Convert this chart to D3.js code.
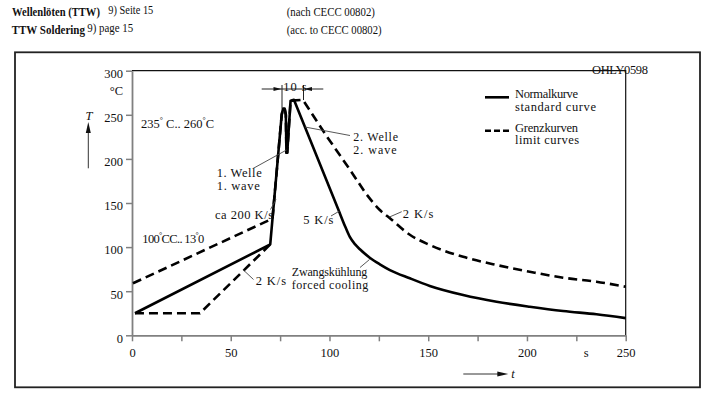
<!DOCTYPE html>
<html>
<head>
<meta charset="utf-8">
<script src="https://cdn.jsdelivr.net/npm/d3@7"></script>
<style>
  html, body { margin: 0; padding: 0; background: #fff; }
  svg { display: block; }
  text { font-family: "Liberation Serif", "Times New Roman", serif; fill: #111; }
</style>
</head>
<body>
<svg id="chart" width="710" height="400"></svg>
<script>
// ---------- data ----------
const xTickValues = [0, 25, 50, 75, 100, 125, 150, 175, 200, 225, 250];
const xTickLabels = ["0", "", "50", "", "100", "", "150", "", "200", "", "250"];
const yTickValues = [0, 50, 100, 150, 200, 250, 300];
const yTickLabels = ["0", "50", "100", "150", "200", "250", "300"];

// standard curve (Normalkurve), t in s, T in °C
const solidT = [1.5, 70, 75.8, 76.5, 77.3, 77.9, 78.2, 78.6, 80.3, 82, 105.3, 108, 110.3, 113, 115.4, 120.4, 125.5, 130.6, 140.7, 150.8, 167.7, 184.6, 201.4, 218.3, 235.2, 250];
const solidV = [25, 103, 250, 257, 257, 250, 207, 207, 266, 267, 138, 123, 111.5, 103, 97.5, 88, 80.5, 74, 64.6, 56, 45.7, 38.1, 32.4, 27.5, 23.8, 19.5];

// upper limit curve (Grenzkurve)
const upperT = [0.5, 71.15, 75.8, 76.5, 77.3, 77.9, 78.2, 78.6, 80.3, 86.5, 98.5, 110.3, 118, 125.5, 130.6, 140.7, 150.8, 167.7, 184.6, 201.4, 218.3, 235.2, 250];
const upperV = [59, 132.3, 250, 257, 257, 250, 207, 207, 266, 267, 226, 188, 162, 142, 132.7, 114, 102.4, 89, 79.7, 72.1, 65.3, 60.8, 55];

// lower limit curve (Grenzkurve)
const lowerT = [1.5, 34.4, 70];
const lowerV = [25, 25, 103];

// ---------- layout ----------
const svg = d3.select("#chart");
const x = d3.scaleLinear().domain([0, 250]).range([132, 625.7]);
const y = d3.scaleLinear().domain([0, 300]).range([335.3, 70.7]);
const axisColor = "#808080";

// outer frame
svg.append("rect").attr("x", 15).attr("y", 52.3).attr("width", 685).attr("height", 335)
  .attr("fill", "none").attr("stroke", "#222").attr("stroke-width", 1.8);

function txt(s, tx, ty, opts) {
  const t = svg.append("text").attr("x", tx).attr("y", ty).text(s)
    .style("font-size", (opts.size || 12) + "px");
  if (opts.bold) t.style("font-weight", "bold");
  if (opts.italic) t.style("font-style", "italic");
  if (opts.len) t.attr("textLength", opts.len).attr("lengthAdjust", opts.adj || "spacing");
  if (opts.anchor) t.attr("text-anchor", opts.anchor);
  return t;
}
// condensed text: scale horizontally to a target width
function fitText(s, tx, ty, width, opts) {
  const t = svg.append("text").attr("x", 0).attr("y", 0).text(s)
    .style("font-size", (opts.size || 12) + "px");
  if (opts.bold) t.style("font-weight", "bold");
  const w = t.node().getComputedTextLength();
  t.attr("transform", `translate(${tx},${ty}) scale(${width / w},1)`);
  return t;
}
// header texts
fitText("Wellenlöten (TTW)", 12, 16, 88, {size: 13.5, bold: true});
fitText("9) Seite 15", 108.3, 13.5, 45, {size: 12.5});
fitText("TTW Soldering", 11.7, 34.3, 73.3, {size: 13.5, bold: true});
fitText("9) page 15", 87.3, 31.5, 46, {size: 12.5});
fitText("(nach CECC 00802)", 286.7, 16, 88.3, {size: 12.5});
fitText("(acc. to CECC 00802)", 286.7, 34, 95, {size: 12.5});

// plot frame (top and right)
svg.append("path")
  .attr("d", `M${x(0)},${y(300)}H${x(250)}V${y(0)}`)
  .attr("fill", "none").attr("stroke", "#111").attr("stroke-width", 1.2);

// axes
const yAxis = d3.axisLeft(y).tickValues(yTickValues)
  .tickFormat((d, i) => yTickLabels[i]).tickSize(6).tickSizeOuter(0).tickPadding(3);
const gy = svg.append("g").attr("transform", `translate(${x(0)},0)`).call(yAxis);
const xAxis = d3.axisBottom(x).tickValues(xTickValues)
  .tickFormat((d, i) => xTickLabels[i]).tickSize(6).tickSizeOuter(0).tickPadding(6.4);
const gx = svg.append("g").attr("transform", `translate(0,${y(0)})`).call(xAxis);
[gx, gy].forEach(g => {
  g.selectAll("path.domain").attr("stroke", axisColor).attr("stroke-width", 1.8);
  g.selectAll(".tick line").attr("stroke", axisColor).attr("stroke-width", 1.5);
  g.selectAll(".tick text").attr("fill", "#111")
    .style("font-family", '"Liberation Serif", serif').style("font-size", "12.5px");
});
gy.selectAll(".tick text").attr("dy", "0.55em");

// axis units and titles
txt("°C", 123, 95, {size: 12.5, anchor: "end"});
txt("s", x(230), 356.5, {size: 12.5, anchor: "middle"});
txt("T", 89, 120, {size: 12.5, italic: true, anchor: "middle"});
txt("t", 513, 378, {size: 12.5, italic: true, anchor: "middle"});

function arrowHead(tipX, tipY, dir, len, hw) {
  let pts;
  if (dir === "up") pts = [[tipX, tipY], [tipX - hw, tipY + len], [tipX + hw, tipY + len]];
  else if (dir === "right") pts = [[tipX, tipY], [tipX - len, tipY - hw], [tipX - len, tipY + hw]];
  else pts = [[tipX, tipY], [tipX + len, tipY - hw], [tipX + len, tipY + hw]];
  svg.append("path").attr("d", "M" + pts.map(p => p.join(",")).join("L") + "Z").attr("fill", "#111");
}
// T arrow
svg.append("line").attr("x1", 88.3).attr("y1", 168.3).attr("x2", 88.3).attr("y2", 126)
  .attr("stroke", "#333").attr("stroke-width", 1);
arrowHead(88.3, 122, "up", 11, 2.5);
// t arrow
svg.append("line").attr("x1", 463.3).attr("y1", 374).attr("x2", 500).attr("y2", 374)
  .attr("stroke", "#333").attr("stroke-width", 1);
arrowHead(508.3, 374, "right", 11, 2.5);

// ---------- curves ----------
function series(ts, vs) { return ts.map((t, i) => [t, vs[i]]); }
const lineLin = d3.line().x(d => x(d[0])).y(d => y(d[1])).curve(d3.curveLinear);
const lineSmooth = d3.line().x(d => x(d[0])).y(d => y(d[1])).curve(d3.curveMonotoneX);

function drawCurve(pts, knee, dash) {
  const a = pts.filter(p => p[0] <= knee);
  const b = pts.filter(p => p[0] >= knee);
  const d = lineLin(a) + (b.length > 1 ? lineSmooth(b).replace(/^M[^CL]*/, "") : "");
  const p = svg.append("path").attr("d", d).attr("fill", "none")
    .attr("stroke", "#000").attr("stroke-width", 2.6).attr("stroke-linejoin", "round");
  if (dash) p.attr("stroke-dasharray", dash);
  return p;
}
drawCurve(series(lowerT, lowerV), 1000, "9,5");
drawCurve(series(upperT, upperV), 118, "9,5");
drawCurve(series(solidT, solidV), 105.3, null);

// ---------- legend ----------
svg.append("line").attr("x1", 485).attr("x2", 509).attr("y1", 97.3).attr("y2", 97.3)
  .attr("stroke", "#000").attr("stroke-width", 2.6);
svg.append("line").attr("x1", 485).attr("x2", 509).attr("y1", 130.7).attr("y2", 130.7)
  .attr("stroke", "#000").attr("stroke-width", 2.6).attr("stroke-dasharray", "6,3");
txt("Normalkurve", 515, 97.7, {size: 12.5, len: 63});
txt("standard curve", 515, 110.6, {size: 12.5, len: 81});
txt("Grenzkurven", 515, 131.7, {size: 12.5, len: 63});
txt("limit curves", 515, 144.3, {size: 12.5, len: 64});

// ---------- annotations ----------
function leader(x1, y1, x2, y2) {
  svg.append("line").attr("x1", x1).attr("y1", y1).attr("x2", x2).attr("y2", y2)
    .attr("stroke", "#444").attr("stroke-width", 0.9);
}
txt("OHLY0598", 620, 74, {size: 12.5, len: 56, anchor: "middle"});

txt("1. Welle", 216.7, 177.3, {size: 12.5, len: 45});
txt("1. wave", 216.7, 190, {size: 12.5, len: 43});
leader(253, 168.5, 286.5, 150);

txt("2. Welle", 353.3, 141, {size: 12, len: 44.7});
txt("2. wave", 353.3, 153.6, {size: 12, len: 43.3});
leader(350, 135.5, 305, 127);

txt("ca 200 K/s", 215, 219.3, {size: 12.5, len: 58});
leader(270.5, 209.5, 276, 199.5);

txt("5 K/s", 303.3, 224, {size: 12.5, len: 30});
leader(331, 216, 339.5, 211);

txt("2 K/s", 255.7, 285, {size: 12.5, len: 30.3});
leader(243.4, 270, 253.5, 279.5);

txt("2 K/s", 402.7, 218.3, {size: 12.5, len: 30.6});
leader(389.5, 217, 401.7, 211.7);

txt("Zwangskühlung", 291.7, 276, {size: 12, len: 75.6});
txt("forced cooling", 291.7, 288.6, {size: 12, len: 76.6});
leader(360, 267.5, 369.5, 259.5);

// temperature range notes (single text elements, degree signs raised)
const t1 = svg.append("text").attr("x", 141).attr("y", 128).style("font-size", "12.5px")
  .attr("textLength", 73).attr("lengthAdjust", "spacing");
t1.append("tspan").text("235");
t1.append("tspan").attr("dy", -5).style("font-size", "8px").text("°");
t1.append("tspan").attr("dy", 5).text(" C.. 260");
t1.append("tspan").attr("dy", -5).style("font-size", "8px").text("°");
t1.append("tspan").attr("dy", 5).text("C");

const t2 = svg.append("text").attr("x", 142.3).attr("y", 243).style("font-size", "12.5px")
  .attr("textLength", 62).attr("lengthAdjust", "spacing");
t2.append("tspan").text("100");
t2.append("tspan").attr("dy", -5).style("font-size", "8px").text("°");
t2.append("tspan").attr("dy", 5).text("CC.. 13");
t2.append("tspan").attr("dy", -5).style("font-size", "8px").text("°");
t2.append("tspan").attr("dy", 5).text("0");

// 10 s dimension
svg.append("line").attr("x1", 261.7).attr("x2", 323.3).attr("y1", 89).attr("y2", 89)
  .attr("stroke", "#222").attr("stroke-width", 1);
svg.append("line").attr("x1", 282).attr("x2", 282).attr("y1", 85).attr("y2", 108.5)
  .attr("stroke", "#222").attr("stroke-width", 1);
svg.append("line").attr("x1", 303.5).attr("x2", 303.5).attr("y1", 85).attr("y2", 100)
  .attr("stroke", "#222").attr("stroke-width", 1);
arrowHead(281.5, 89, "right", 8, 2);
arrowHead(304, 89, "left", 8, 2);
txt("10 s", 283.3, 90.5, {size: 12.5, len: 23.4});
</script>
</body>
</html>
